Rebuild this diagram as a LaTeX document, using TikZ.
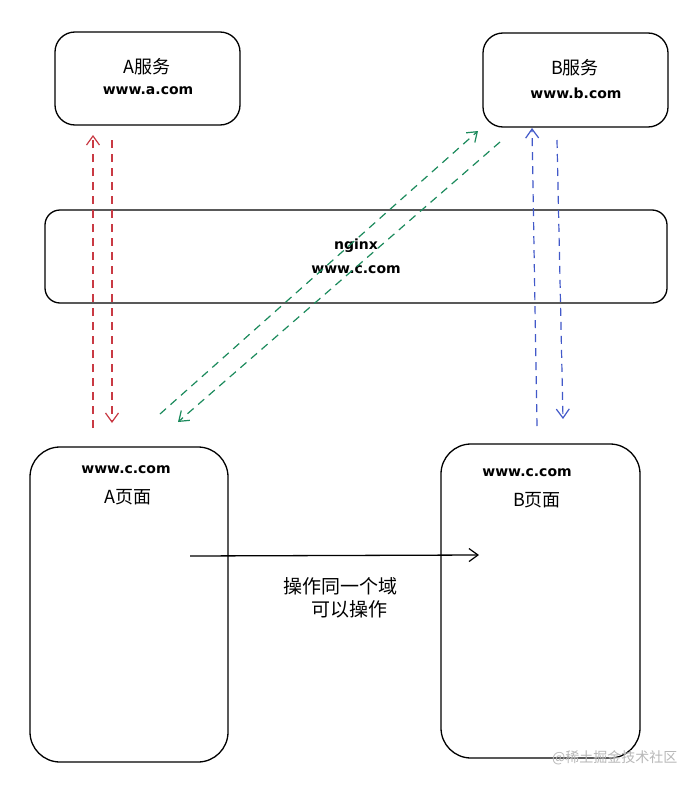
\documentclass[tikz,border=0pt]{standalone}
\usepackage{fontspec}
\setmainfont{Noto Sans CJK SC}
\newfontfamily\cjkf{Noto Sans CJK SC}
\newfontfamily\latn{DejaVu Sans}
\usetikzlibrary{arrows.meta}
\definecolor{cred}{HTML}{C93A44}
\definecolor{cgreen}{HTML}{1B8A5C}
\definecolor{cblue}{HTML}{4259C9}
\definecolor{wm}{HTML}{B8B8B8}
\tikzset{
  box/.style={draw=black, line width=1.3pt, fill=none, inner sep=0pt},
  url/.style={font=\latn\bfseries\fontsize{14}{16}\selectfont},
  ttl/.style={font=\cjkf\fontsize{18}{20}\selectfont},
  lbl/.style={font=\cjkf\fontsize{19}{23}\selectfont, align=left, inner sep=0pt},
  dline/.style={line width=1.2pt, dash pattern=on 8pt off 6pt},
  tip/.style={-{Straight Barb[length=9pt,width=13pt,line width=1.2pt]}},
}
\begin{document}
\begin{tikzpicture}[x=1pt,y=-1pt]
\useasboundingbox (0,0) rectangle (699,787);
\fill[white] (0,0) rectangle (699,787);
% boxes
\node[box, rounded corners=20pt, minimum width=185pt, minimum height=93pt] (asvc) at (147.5,78.5) {};
\node[box, rounded corners=20pt, minimum width=185pt, minimum height=94pt] (bsvc) at (575.5,80) {};
\node[box, rounded corners=15pt, minimum width=622pt, minimum height=93pt] (ngx) at (356,256.5) {};
\node[box, rounded corners=30pt, minimum width=198pt, minimum height=315pt] (apg) at (129,604.5) {};
\node[box, rounded corners=30pt, minimum width=199pt, minimum height=314pt] (bpg) at (540.5,601) {};
% texts
\node[ttl] (at) at (147,67) {A服务};
\node[url] (au) at (148,91) {www.a.com};
\node[ttl] (bt) at (575,68) {B服务};
\node[url] (bu) at (576,93) {www.b.com};
\node[url] (nt) at (356,246) {nginx};
\node[url] (nu) at (356,270) {www.c.com};
\node[url] (apu) at (126,470) {www.c.com};
\node[ttl] (apt) at (128,497) {A页面};
\node[url] (bpu) at (527,473) {www.c.com};
\node[ttl] (bpt) at (537,500) {B页面};
\node[lbl, anchor=north west] (note) at (283,577) {操作同一个域\\\hspace{1.5em}可以操作};
\node[font=\cjkf\fontsize{14}{16}\selectfont, text=wm, anchor=east] (wmk) at (681,758) {@稀土掘金技术社区};
% coordinates for connector ends
\coordinate (r1s) at (93,428); \coordinate (r1e) at (93,135);
\coordinate (r2s) at (112,140); \coordinate (r2e) at (112,423);
\coordinate (g1s) at (160,414); \coordinate (g1e) at (478,131);
\coordinate (g2s) at (500,142); \coordinate (g2e) at (178,422);
\coordinate (b1s) at (537,426); \coordinate (b1e) at (532,128);
\coordinate (b2s) at (557,140); \coordinate (b2e) at (563,419);
\coordinate (ks) at (190,556); \coordinate (ke) at (479,555);
% connectors
\draw[dline, tip, cred] (r1s) -- (r1e);
\draw[dline, tip, cred] (r2s) -- (r2e);
\draw[dline, tip, cgreen] (g1s) -- (g1e);
\draw[dline, tip, cgreen] (g2s) -- (g2e);
\draw[dline, tip, cblue] (b1s) -- (b1e);
\draw[dline, tip, cblue] (b2s) -- (b2e);
\draw[tip, line width=1.3pt, black] (ks) -- (ke);
\end{tikzpicture}
\end{document}
